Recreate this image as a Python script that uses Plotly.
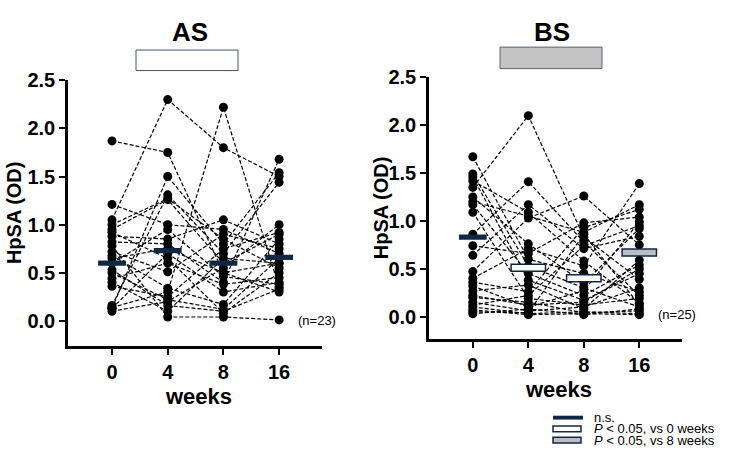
import plotly.graph_objects as go

weeks = ["0", "4", "8", "16"]
y_ticks = [0.0, 0.5, 1.0, 1.5, 2.0, 2.5]

# AS group: HpSA (OD) per subject at weeks 0, 4, 8, 16 (n=23)
as_subjects = [
    [1.87, 1.75, 0.50, 0.60],
    [1.05, 2.30, 1.80, 1.50],
    [0.14, 0.30, 2.22, 0.35],
    [1.21, 1.00, 0.95, 0.70],
    [0.13, 1.50, 0.80, 1.54],
    [0.16, 1.31, 0.70, 1.44],
    [1.00, 1.27, 0.85, 0.55],
    [0.95, 1.26, 0.60, 0.90],
    [0.88, 0.85, 1.05, 0.80],
    [0.82, 0.80, 0.40, 1.68],
    [0.78, 0.04, 0.04, 0.01],
    [0.72, 0.51, 0.90, 0.75],
    [0.68, 0.34, 0.17, 0.85],
    [0.60, 0.95, 0.46, 0.38],
    [0.53, 0.16, 0.10, 0.33],
    [0.44, 0.60, 0.38, 0.45],
    [0.36, 0.25, 0.75, 0.92],
    [0.10, 0.20, 0.55, 1.00],
    [0.13, 0.70, 0.30, 0.40],
    [0.50, 0.22, 0.12, 0.65],
    [0.92, 0.65, 0.08, 0.50],
    [0.65, 0.75, 0.50, 0.30],
    [0.40, 0.10, 0.65, 0.60],
]
as_means = [0.60, 0.73, 0.60, 0.66]
as_signif = ["n.s.", "n.s.", "n.s.", "n.s."]

# BS group (n=25)
bs_subjects = [
    [1.67, 0.60, 0.45, 0.26],
    [1.49, 0.53, 0.30, 0.10],
    [1.46, 0.38, 0.17, 0.45],
    [1.42, 1.09, 0.58, 0.14],
    [1.35, 2.10, 0.83, 0.39],
    [1.25, 0.76, 0.35, 0.92],
    [1.20, 1.05, 0.88, 1.17],
    [1.17, 0.45, 0.22, 0.54],
    [1.09, 0.19, 0.12, 0.19],
    [0.86, 1.41, 0.78, 0.22],
    [0.74, 0.66, 0.98, 1.04],
    [0.64, 1.17, 0.71, 0.84],
    [0.47, 1.03, 1.26, 0.75],
    [0.40, 0.71, 0.53, 1.39],
    [0.36, 0.26, 0.93, 1.12],
    [0.32, 0.10, 0.27, 0.99],
    [0.27, 0.33, 0.08, 0.59],
    [0.20, 0.15, 0.04, 0.06],
    [0.15, 0.06, 0.10, 0.30],
    [0.10, 0.03, 0.05, 0.03],
    [0.07, 0.02, 0.03, 0.02],
    [0.03, 0.08, 0.02, 0.08],
    [0.22, 0.12, 0.15, 0.50],
    [0.12, 0.22, 0.74, 0.95],
    [0.05, 0.04, 0.86, 0.12],
]
bs_means = [0.83, 0.51, 0.40, 0.67]
bs_signif = ["n.s.", "vs0", "vs0", "vs8"]

legend_labels = ["n.s.", "<i>P</i> < 0.05, vs 0 weeks", "<i>P</i> < 0.05, vs 8 weeks"]
legend_keys = ["n.s.", "vs0", "vs8"]

W, H = 741, 465
NAVY = "#0f2744"
FONT = "Arial, Liberation Sans, Helvetica, sans-serif"


def px(x):
    return x / W


def py(y):
    return 1 - y / H


fig = go.Figure()

panels = [
    dict(subjects=as_subjects, means=as_means, signif=as_signif, xa="x", ya="y"),
    dict(subjects=bs_subjects, means=bs_means, signif=bs_signif, xa="x2", ya="y2"),
]

for p in panels:
    xs, ys = [], []
    for s in p["subjects"]:
        xs += list(range(len(weeks))) + [None]
        ys += list(s) + [None]
    fig.add_trace(go.Scatter(
        x=xs, y=ys, mode="lines+markers",
        line=dict(color="black", width=1.2, dash="4px,2px"),
        marker=dict(color="black", size=9),
        xaxis=p["xa"], yaxis=p["ya"], showlegend=False, hoverinfo="skip",
    ))

shapes = []


def style_for(key):
    if key == "n.s.":
        return dict(fill=NAVY, line=NAVY, hw=0.25, hh=0.027)
    if key == "vs0":
        return dict(fill="white", line=NAVY, hw=0.31, hh=0.037)
    return dict(fill="#b9bec4", line=NAVY, hw=0.31, hh=0.037)


for p in panels:
    for i, (m, key) in enumerate(zip(p["means"], p["signif"])):
        st = style_for(key)
        shapes.append(dict(
            type="rect", xref=p["xa"], yref=p["ya"],
            x0=i - st["hw"], x1=i + st["hw"], y0=m - st["hh"], y1=m + st["hh"],
            fillcolor=st["fill"], line=dict(color=st["line"], width=1.5 if key != "n.s." else 0),
            layer="above",
        ))

# title boxes
shapes.append(dict(type="rect", xref="paper", yref="paper",
                   x0=px(136), x1=px(238), y0=py(61), y1=py(40),
                   fillcolor="white", line=dict(color="#44546a", width=1)))
shapes.append(dict(type="rect", xref="paper", yref="paper",
                   x0=px(500), x1=px(602), y0=py(59), y1=py(37),
                   fillcolor="#c3c3c3", line=dict(color="#5a6270", width=1)))

# legend keys
leg_y = [416.5, 428, 439.5]
for key, yy in zip(legend_keys, leg_y):
    st = style_for(key)
    if key == "n.s.":
        shapes.append(dict(type="rect", xref="paper", yref="paper",
                           x0=px(553), x1=px(583), y0=py(yy + 2), y1=py(yy - 2),
                           fillcolor=NAVY, line=dict(width=0)))
    else:
        shapes.append(dict(type="rect", xref="paper", yref="paper",
                           x0=px(553), x1=px(581), y0=py(yy + 3), y1=py(yy - 3),
                           fillcolor=st["fill"], line=dict(color=NAVY, width=1.5)))

annotations = []


def ann(text, x, y, size, bold=False, angle=0, xanchor="center"):
    annotations.append(dict(
        text=f"<b>{text}</b>" if bold else text, x=px(x), y=py(y),
        xref="paper", yref="paper", showarrow=False, textangle=angle,
        xanchor=xanchor, yanchor="middle",
        font=dict(family=FONT, size=size, color="black"),
    ))


ann("AS", 190, 22, 26, bold=True)
ann("BS", 552, 22, 26, bold=True)
ann("HpSA (OD)", 14, 207, 20, bold=True, angle=-90)
ann("HpSA (OD)", 381, 202, 20, bold=True, angle=-90)
ann("weeks", 198, 395, 22, bold=True)
ann("weeks", 558, 388, 22, bold=True)
ann("(n=23)", 296, 317, 13, xanchor="left")
ann("(n=25)", 656, 311, 13, xanchor="left")
for lab, yy in zip(legend_labels, leg_y):
    ann(lab, 592, yy, 13, xanchor="left")

axis_common = dict(
    showline=True, linecolor="black", linewidth=2.5, ticks="outside",
    ticklen=6, tickwidth=2, tickcolor="black", showgrid=False, zeroline=False,
    tickfont=dict(family=FONT, size=20, color="black", weight="bold"),
)

fig.update_layout(
    width=W, height=H, margin=dict(l=0, r=0, t=0, b=0),
    plot_bgcolor="white", paper_bgcolor="white", showlegend=False,
    xaxis=dict(domain=[px(68), px(322)], range=[-0.79, 3.77], anchor="y",
               tickvals=list(range(len(weeks))), ticktext=weeks, **axis_common),
    yaxis=dict(domain=[py(343), py(71)], range=[-0.26, 2.5], anchor="x",
               tickvals=y_ticks, tickformat=".1f", **axis_common),
    xaxis2=dict(domain=[px(429), px(682)], range=[-0.79, 3.77], anchor="y2",
                tickvals=list(range(len(weeks))), ticktext=weeks, **axis_common),
    yaxis2=dict(domain=[py(336), py(68)], range=[-0.235, 2.5], anchor="x2",
                tickvals=y_ticks, tickformat=".1f", **axis_common),
    shapes=shapes, annotations=annotations,
)

fig.write_html("out.html", post_script="document.body.style.margin='0';",
               config={"displayModeBar": False})
